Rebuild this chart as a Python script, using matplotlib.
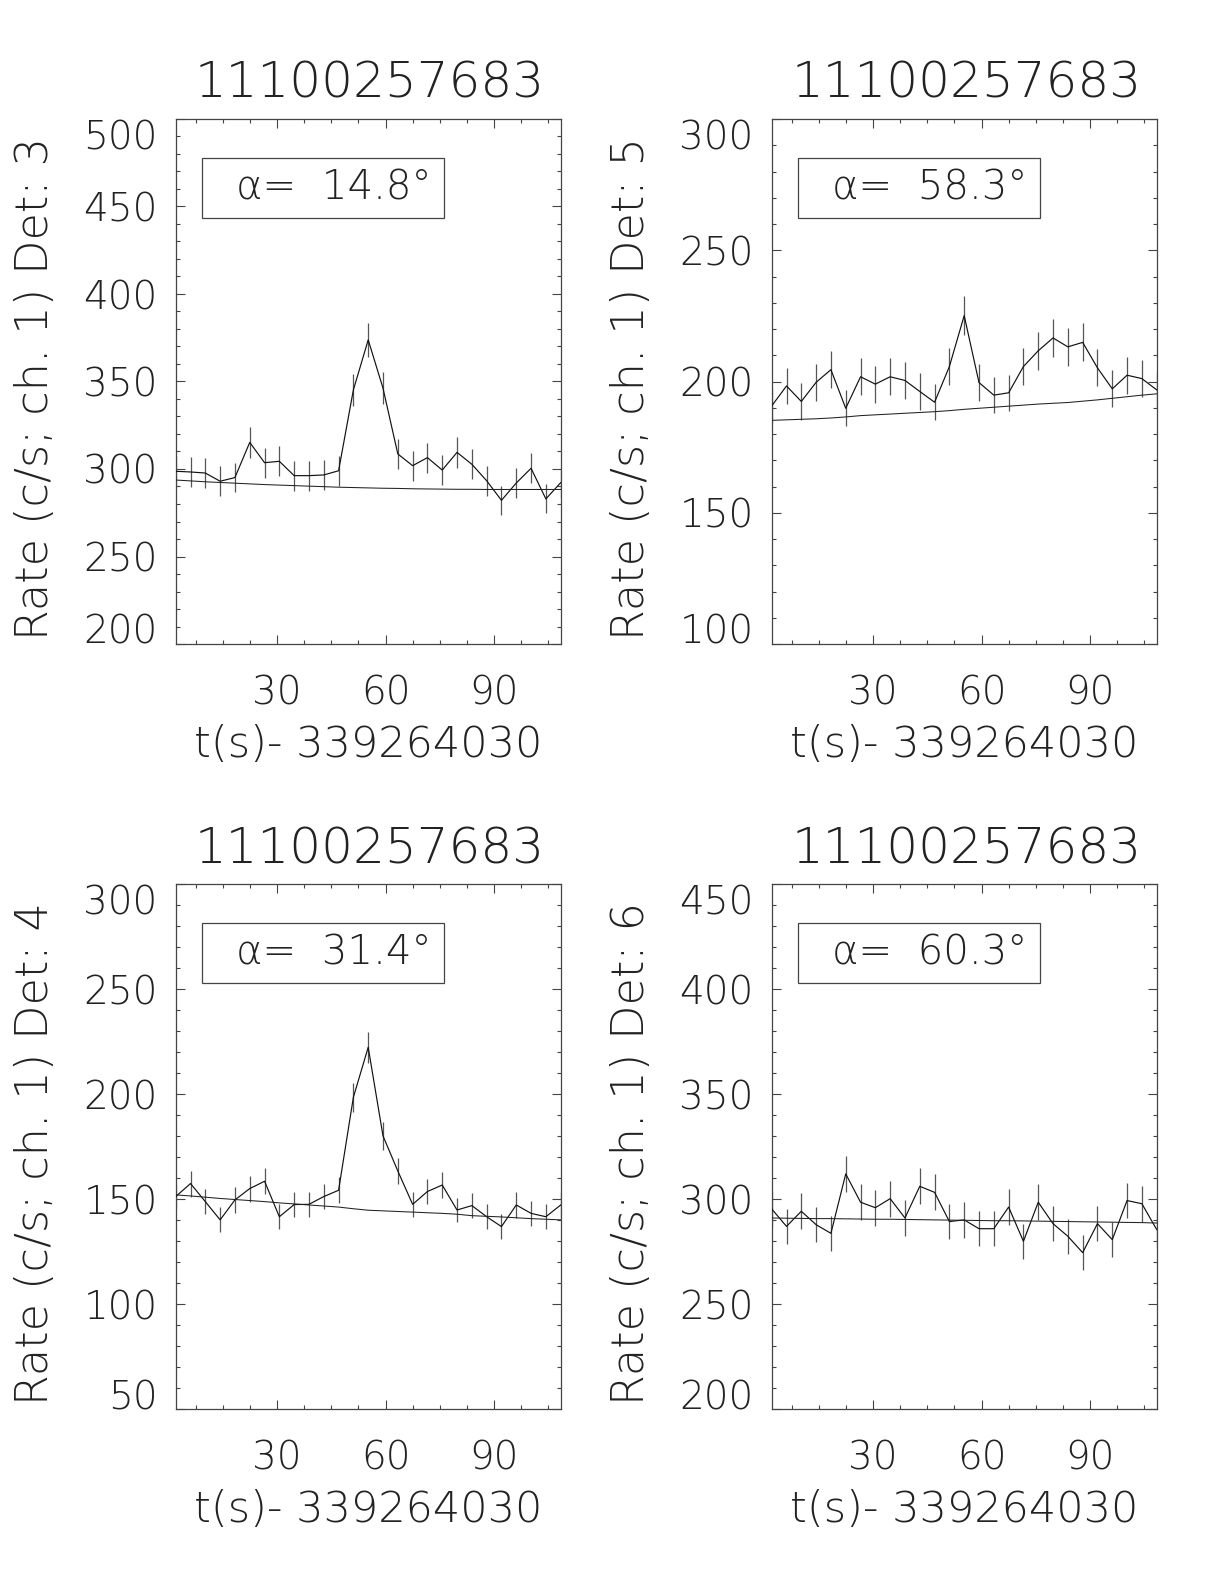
import matplotlib
matplotlib.use("Agg")
import matplotlib.pyplot as plt
from matplotlib import font_manager as fm
from matplotlib.ticker import MultipleLocator
from matplotlib.patches import Rectangle

# ---------------- data ----------------
title_id = "11100257683"
t_offset_label = "t(s)- 339264030"

t = [1.95, 6.05, 10.14, 14.24, 18.33, 22.43, 26.53, 30.62, 34.72, 38.81,
     42.91, 47.01, 51.10, 55.20, 59.29, 63.39, 67.49, 71.58, 75.68, 79.77,
     83.87, 87.97, 92.06, 96.16, 100.25, 104.35, 108.45]

det_labels = ["Rate (c/s; ch. 1) Det: 3", "Rate (c/s; ch. 1) Det: 5",
              "Rate (c/s; ch. 1) Det: 4", "Rate (c/s; ch. 1) Det: 6"]
alpha_labels = ["14.8", "58.3", "31.4", "60.3"]
ylims = [(200, 500), (100, 300), (50, 300), (200, 450)]

rate_det3 = [298.7, 298.3, 297.7, 293.0, 295.1, 315.2, 303.6, 304.4, 296.2, 296.2,
             296.6, 299.0, 345.2, 373.8, 346.2, 308.6, 301.9, 306.5, 299.4, 309.5,
             302.7, 293.3, 282.1, 292.0, 300.4, 282.9, 292.2]
err_det3 = [8.5, 8.5, 8.5, 8.5, 8.5, 8.8, 8.6, 8.6, 8.5, 8.5, 8.5, 8.5, 9.2, 9.6,
            9.2, 8.7, 8.6, 8.6, 8.5, 8.7, 8.6, 8.5, 8.3, 8.5, 8.6, 8.3, 8.5]
bkg_det3 = [293.7, 293.2, 292.7, 292.3, 291.9, 291.5, 291.1, 290.8, 290.5, 290.2,
            289.9, 289.6, 289.4, 289.2, 289.0, 288.9, 288.7, 288.6, 288.5, 288.4,
            288.4, 288.3, 288.3, 288.3, 288.3, 288.3, 288.3]

rate_det5 = [190.7, 198.3, 192.4, 199.7, 204.5, 189.8, 201.8, 199.0, 201.8, 200.4,
             196.2, 192.1, 205.7, 225.1, 199.6, 194.8, 195.7, 205.7, 211.7, 216.6,
             213.2, 214.9, 205.2, 197.2, 202.4, 201.1, 196.8]
err_det5 = [6.8, 7.0, 6.9, 7.0, 7.1, 6.8, 7.0, 7.0, 7.0, 7.0, 6.9, 6.8, 7.1, 7.4,
            7.0, 6.9, 6.9, 7.1, 7.2, 7.3, 7.2, 7.2, 7.1, 7.0, 7.0, 7.0, 6.9]
bkg_det5 = [185.2, 185.4, 185.6, 185.8, 186.1, 186.5, 187.0, 187.3, 187.6, 187.9,
            188.2, 188.5, 188.9, 189.4, 189.8, 190.2, 190.6, 191.0, 191.4, 191.7,
            192.0, 192.5, 193.0, 193.6, 194.2, 194.8, 195.3]

rate_det4 = [151.3, 157.5, 148.9, 140.2, 149.7, 155.1, 158.6, 141.7, 147.5, 147.6,
             151.3, 154.3, 198.6, 222.4, 180.2, 163.5, 147.6, 153.7, 156.8, 144.9,
             147.0, 141.7, 137.0, 147.3, 143.3, 141.7, 147.3]
err_det4 = [6.1, 6.2, 6.0, 5.9, 6.0, 6.2, 6.2, 5.9, 6.0, 6.0, 6.1, 6.1, 7.0, 7.4,
            6.6, 6.3, 6.0, 6.1, 6.2, 5.9, 6.0, 5.9, 5.8, 6.0, 5.9, 5.9, 6.0]
bkg_det4 = [152.1, 151.6, 151.0, 150.4, 149.9, 149.4, 148.9, 148.3, 147.8, 147.3,
            146.8, 146.3, 145.5, 144.8, 144.5, 144.2, 143.9, 143.6, 143.3, 142.9,
            142.2, 141.9, 141.6, 141.2, 140.8, 140.5, 140.2]

rate_det6 = [295.4, 287.1, 294.3, 287.9, 283.8, 312.1, 298.6, 296.0, 300.3, 291.1,
             306.2, 303.3, 289.4, 290.2, 286.0, 286.0, 296.3, 280.0, 298.6, 288.4,
             282.4, 274.6, 288.4, 280.8, 299.4, 297.9, 285.6]
err_det6 = [8.5, 8.4, 8.5, 8.4, 8.3, 8.7, 8.5, 8.5, 8.6, 8.4, 8.6, 8.6, 8.4, 8.4,
            8.4, 8.4, 8.5, 8.3, 8.5, 8.4, 8.3, 8.2, 8.4, 8.3, 8.5, 8.5, 8.4]
bkg_det6 = [291.1, 291.0, 290.9, 290.8, 290.8, 290.7, 290.6, 290.5, 290.5, 290.4,
            290.3, 290.2, 290.1, 290.0, 289.9, 289.8, 289.8, 289.7, 289.6, 289.5,
            289.4, 289.3, 289.2, 289.1, 289.0, 288.9, 288.7]

rates = [rate_det3, rate_det5, rate_det4, rate_det6]
errs = [err_det3, err_det5, err_det4, err_det6]
bkgs = [bkg_det3, bkg_det5, bkg_det4, bkg_det6]

# ---------------- font choice (thin, like IDL Hershey) ----------------
def pick_font():
    prefs = ["DejaVu Sans", "Noto Sans", "Open Sans", "Lato", "Roboto"]
    for fam in prefs:
        ws = []
        for f in fm.fontManager.ttflist:
            if f.name == fam and f.style == "normal":
                w = f.weight
                if isinstance(w, str):
                    w = {"ultralight": 200, "light": 300, "normal": 400,
                         "regular": 400, "thin": 100, "extra light": 200}.get(w.lower(), 400)
                ws.append(w)
        light = [w for w in ws if w <= 300]
        if light:
            return fam, max(min(light), 200) if min(light) >= 200 else min(light)
    return "DejaVu Sans", 400

FAM, WGT = pick_font()
FONT = dict(family=[FAM, "DejaVu Sans"], fontweight=WGT)
TXT = "#222222"

W, H = 1224, 1584
fig = plt.figure(figsize=(W / 100, H / 100), dpi=100)

ax_w, ax_h = 385, 525
lefts = [175.7, 771.7, 175.7, 771.7]
tops = [119, 119, 884.3, 884.3]

for i in range(4):
    l, tp = lefts[i], tops[i]
    ax = fig.add_axes([l / W, 1 - (tp + ax_h) / H, ax_w / W, ax_h / H])
    ax.errorbar(t, rates[i], yerr=errs[i], fmt="none", ecolor="#555555",
                elinewidth=0.9, capsize=0, zorder=2)
    ax.plot(t, rates[i], color="#111111", lw=0.85, zorder=3)
    ax.plot(t, bkgs[i], color="#222222", lw=0.75, zorder=3)
    ax.set_xlim(t[0], t[-1])
    ax.set_ylim(*ylims[i])
    ax.xaxis.set_major_locator(MultipleLocator(30))
    ax.xaxis.set_minor_locator(MultipleLocator(7.5))
    ax.yaxis.set_major_locator(MultipleLocator(50))
    ax.yaxis.set_minor_locator(MultipleLocator(10))
    ax.tick_params(which="both", direction="in", top=True, right=True,
                   color="#444444", width=0.8)
    ax.tick_params(which="major", length=6.5)
    ax.tick_params(which="minor", length=3.2)
    ax.tick_params(axis="x", which="major", pad=22)
    ax.tick_params(axis="y", which="major", pad=13)
    for s in ax.spines.values():
        s.set_color("#444444")
        s.set_linewidth(0.9)

    # title
    ax.text(0.505, 1 + 21 / ax_h, title_id, transform=ax.transAxes,
            ha="center", va="baseline", fontsize=36, color=TXT, **FONT)
    # x label
    ax.text(0.5, -113 / ax_h, t_offset_label, transform=ax.transAxes,
            ha="center", va="baseline", fontsize=31, color=TXT, **FONT)
    # y label
    ax.text(-140 / ax_w, 0.487, det_labels[i], transform=ax.transAxes,
            ha="center", va="center", rotation=90, fontsize=32, color=TXT, **FONT)
    # alpha box
    box = Rectangle((26 / ax_w, 1 - 99 / ax_h), 242 / ax_w, 60 / ax_h,
                    transform=ax.transAxes, fill=False, edgecolor="#444444",
                    lw=0.9, zorder=4)
    ax.add_patch(box)
    ax.text(60 / ax_w, 1 - 69 / ax_h, "α=  " + alpha_labels[i] + "°",
            transform=ax.transAxes, ha="left", va="center", fontsize=29,
            color=TXT, zorder=5, **FONT)

    fig.canvas.draw()
    ylabs = ax.get_yticklabels()
    yt = ax.get_yticks()
    lo, hi = ylims[i]
    for lab, v in zip(ylabs, yt):
        lab.set_fontsize(28)
        lab.set_family(FONT["family"])
        lab.set_fontweight(WGT)
        lab.set_color(TXT)
        if abs(v - hi) < 1e-6:
            lab.set_verticalalignment("top")
        elif abs(v - lo) < 1e-6:
            lab.set_verticalalignment("baseline")
    for lab in ax.get_xticklabels():
        lab.set_fontsize(28)
        lab.set_family(FONT["family"])
        lab.set_fontweight(WGT)
        lab.set_color(TXT)

fig.savefig("out.png", dpi=100, facecolor="white")
